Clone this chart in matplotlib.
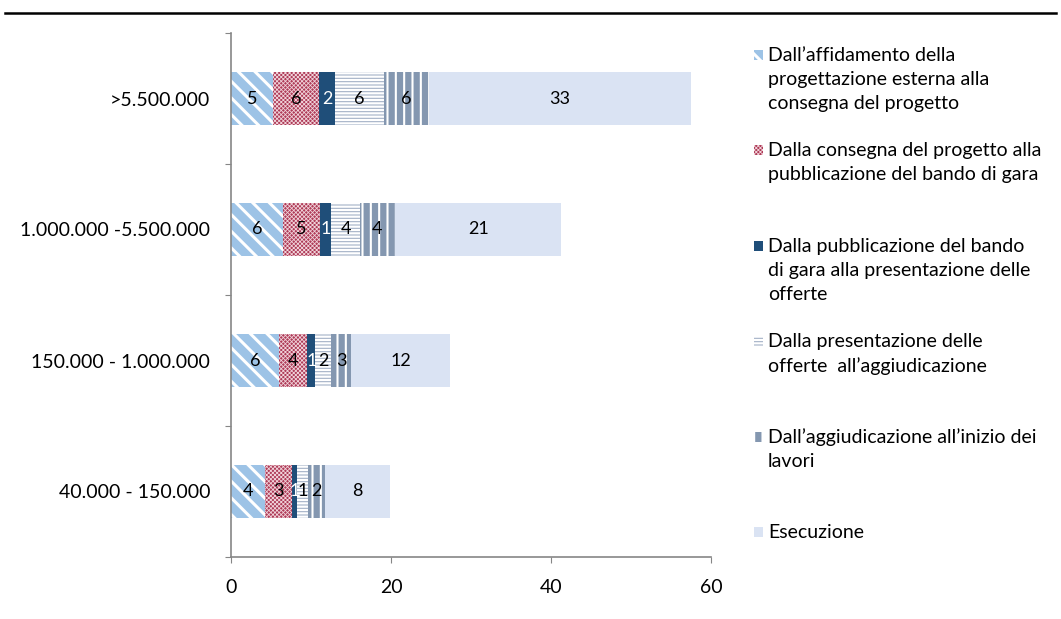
import numpy as np
import matplotlib
matplotlib.use('Agg')
import matplotlib.pyplot as plt
from matplotlib.patches import Rectangle
from matplotlib.lines import Line2D

plt.rcParams['font.family'] = ['Lato', 'DejaVu Sans']

categories = ['40.000 - 150.000', '150.000 - 1.000.000', '1.000.000 -5.500.000', '>5.500.000']
affidamento = [4.2, 6.0, 6.5, 5.3]
consegna = [3.4, 3.55, 4.6, 5.7]
pubblicazione = [0.7, 1.0, 1.46, 2.0]
presentazione = [1.3, 1.9, 3.54, 6.1]
aggiudicazione = [2.2, 2.6, 4.4, 5.6]
esecuzione = [8.1, 12.3, 20.8, 32.8]

labels = ['Dall\u2019affidamento della\nprogettazione esterna alla\nconsegna del progetto',
          'Dalla consegna del progetto alla\npubblicazione del bando di gara',
          'Dalla pubblicazione del bando\ndi gara alla presentazione delle\nofferte',
          'Dalla presentazione delle\nofferte  all\u2019aggiudicazione',
          'Dall\u2019aggiudicazione all\u2019inizio dei\nlavori',
          'Esecuzione']

series = [affidamento, consegna, pubblicazione, presentazione, aggiudicazione, esecuzione]
# face, hatch, hatch colour, hatch width, label colour
styles = [
    ('#9DC3E6', '\\\\', 'white', 2.2, 'black'),
    ('#AE3A57', 'xxxxxxxx', '#F0D2D9', 0.6, 'black'),
    ('#1F4E79', None, '#1F4E79', 0.0, 'white'),
    ('white', '-----', '#A3B1C6', 0.8, 'black'),
    ('#8497B0', '||', 'white', 1.5, 'black'),
    ('#DAE3F3', None, '#DAE3F3', 0.0, 'black'),
]

fig = plt.figure(figsize=(10.61, 6.19), dpi=100)
ax = fig.add_axes([231 / 1061, 1 - 557 / 619, 480 / 1061, 524 / 619])

y = np.arange(len(categories))
left = np.zeros(len(categories))
for vals, (fc, hatch, hc, hw, tc) in zip(series, styles):
    vals = np.array(vals)
    plt.rcParams['hatch.linewidth'] = max(hw, 0.1)
    bars = ax.barh(y, vals, left=left, height=0.4, color=fc, edgecolor=hc,
                   linewidth=0, hatch=hatch)
    for b in bars:
        if hasattr(b, 'set_hatch_linewidth'):
            b.set_hatch_linewidth(max(hw, 0.1))
    for yi, l, v in zip(y, left, vals):
        ax.text(l + v / 2, yi, f'{int(round(v))}', ha='center', va='center',
                fontsize=13, color=tc)
    left = left + vals

ax.set_xlim(0, 60)
ax.set_ylim(-0.5, 3.5)
ax.set_xticks([0, 20, 40, 60])
ax.set_yticks(np.arange(-0.5, 4, 1))
ax.set_yticklabels([])
ax.set_yticks(y, minor=True)
ax.set_yticklabels(categories, minor=True)
ax.tick_params(axis='y', which='minor', length=0, pad=15, labelsize=14)
ax.tick_params(axis='y', which='major', length=4.5, direction='out', color='#868686')
ax.tick_params(axis='x', length=4, color='#868686', pad=12, labelsize=14)
for s in ['top', 'right']:
    ax.spines[s].set_visible(False)
for s in ['left', 'bottom']:
    ax.spines[s].set_color('#868686')
    ax.spines[s].set_linewidth(1.2)

# legend drawn by hand (Excel spacing)
for i, (lab, (fc, hatch, hc, hw, tc)) in enumerate(zip(labels, styles)):
    ytop = 55 + i * 95.4
    plt.rcParams['hatch.linewidth'] = max(hw, 0.1)
    r = Rectangle((754 / 1061, 1 - (ytop + 5) / 619), 9 / 1061, 10 / 619,
                  transform=fig.transFigure, facecolor=fc, edgecolor=hc,
                  linewidth=0, hatch=hatch)
    if hasattr(r, 'set_hatch_linewidth'):
        r.set_hatch_linewidth(max(hw, 0.1))
    fig.add_artist(r)
    fig.text(768 / 1061, 1 - (ytop - 8) / 619, lab, fontsize=14, va='top',
             ha='left', linespacing=1.5)

fig.add_artist(Line2D([5 / 1061, 1056 / 1061], [1 - 13 / 619, 1 - 13 / 619],
                      transform=fig.transFigure, color='black', linewidth=1.8))

fig.savefig('out.png', dpi=100)
